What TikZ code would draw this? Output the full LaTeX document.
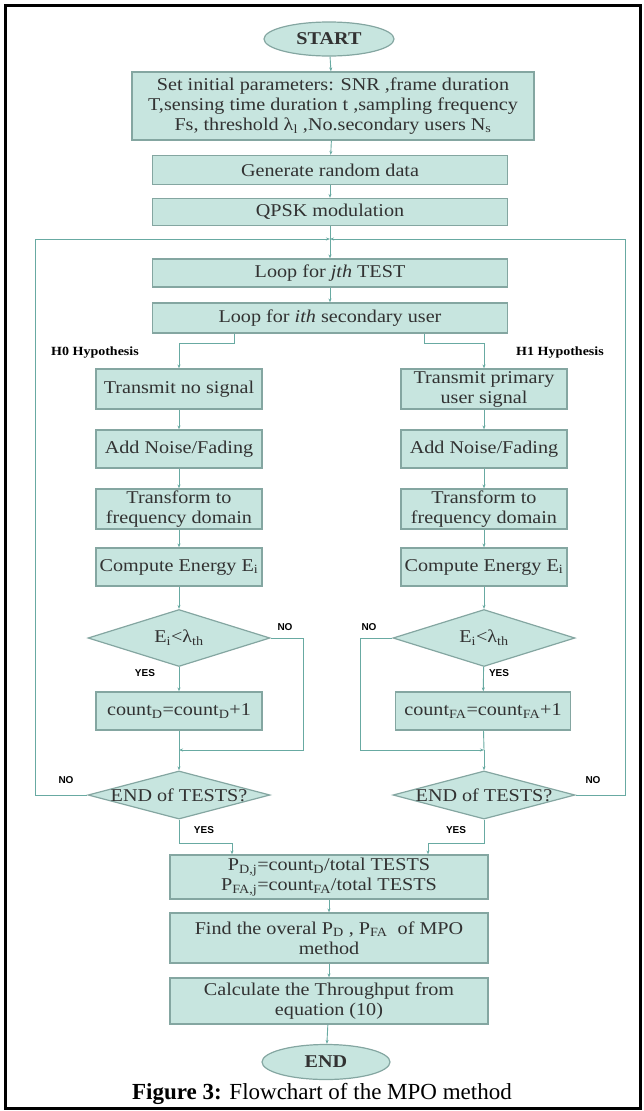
\documentclass[tikz,border=0pt]{standalone}
\usepackage{fontspec}
\setmainfont{Liberation Serif}
\setsansfont{Liberation Sans}
\newfontfamily\chartfont{Liberation Serif}[FakeStretch=1.12]
\usepackage{tikz}
\usetikzlibrary{shapes.geometric,arrows.meta}

\definecolor{boxfill}{RGB}{199,229,223}
\definecolor{boxline}{RGB}{132,166,161}
\definecolor{flowline}{RGB}{104,170,162}
\definecolor{inktext}{RGB}{50,50,50}

\tikzset{
    stepbox/.style={draw=boxline, line width=1.2pt, fill=boxfill, text=inktext, align=center,
        inner sep=0pt, font=\chartfont\fontsize{18}{20}\selectfont},
    colbox/.style={stepbox, minimum width=166pt, minimum height=38pt},
    termnode/.style={ellipse, draw=boxline, line width=1.2pt, fill=boxfill, text=inktext,
        inner sep=0pt, font=\chartfont\fontsize{18}{20}\selectfont\bfseries},
    testnode/.style={diamond, aspect=3.2, draw=boxline, line width=1.2pt, fill=boxfill,
        text=inktext, inner sep=0pt, minimum width=182pt, font=\chartfont\fontsize{18}{20}\selectfont},
    tag/.style={font=\fontsize{10}{11}\selectfont\sffamily\bfseries},
    hyptag/.style={font=\chartfont\fontsize{12.5}{13}\selectfont\bfseries},
    flowarrow/.style={->, draw=flowline, line width=0.9pt},
}

\begin{document}
\begin{tikzpicture}[x=1pt, y=-1pt, >={Stealth[length=4pt,width=3pt]}]
    \useasboundingbox (0,0) rectangle (644,1111);
    \draw[line width=3pt] (5,5.5) rectangle (640,1108.5);

    % main column
    \node[termnode, minimum width=130pt, minimum height=34pt] (start) at (329,39) {START};
    \node[stepbox, minimum width=402pt, minimum height=68pt] (init) at (333,106)
        {Set initial parameters: SNR ,frame duration\\
         T,sensing time duration t ,sampling frequency\\
         Fs, threshold λ\textsubscript{l} ,No.secondary users N\textsubscript{s}};
    \node[stepbox, minimum width=355pt, minimum height=29pt] (gen) at (330,170) {Generate random data};
    \node[stepbox, minimum width=355pt, minimum height=27pt] (qpsk) at (330,212) {QPSK modulation};
    \node[stepbox, minimum width=355pt, minimum height=28pt] (jtest) at (330,273) {Loop for \textit{jth} TEST};
    \node[stepbox, minimum width=355pt, minimum height=30pt] (iuser) at (330,318) {Loop for \textit{ith} secondary user};

    \draw[flowarrow] (start) -- (init);
    \draw[flowarrow] (init) -- (gen);
    \draw[flowarrow] (gen) -- (qpsk);
    \draw[flowarrow] (qpsk) -- (jtest);
    \draw[flowarrow] (jtest) -- (iuser);

    % two hypotheses
    \node[hyptag] (h0) at (95,353) {H0 Hypothesis};
    \node[hyptag] (h1) at (560,353) {H1 Hypothesis};
    \node[colbox, minimum height=40pt] (tx0) at (179,389) {Transmit no signal};
    \node[colbox, minimum height=40pt] (tx1) at (484,389) {Transmit primary\\user signal};
    \coordinate (split0) at (234,343);
    \coordinate (split1) at (424,343);
    \draw[flowarrow] (iuser.south -| split0) -- (split0) -| (tx0);
    \draw[flowarrow] (iuser.south -| split1) -- (split1) -| (tx1);

    \foreach \s/\x in {0/179, 1/484} {
        \node[colbox] (noise\s) at (\x,449) {Add Noise/Fading};
        \node[colbox, minimum height=40pt] (freq\s) at (\x,509) {Transform to\\frequency domain};
        \node[colbox] (energy\s) at (\x,567) {Compute Energy E\textsubscript{i}};
        \node[testnode, minimum height=57pt] (thr\s) at (\x,638) {E\textsubscript{i}<λ\textsubscript{th}};
        \coordinate (join\s) at (\x,750);
        \node[testnode, inner xsep=-12pt, minimum height=48pt] (done\s) at (\x,795) {END of TESTS?};

        \draw[flowarrow] (tx\s) -- (noise\s);
        \draw[flowarrow] (noise\s) -- (freq\s);
        \draw[flowarrow] (freq\s) -- (energy\s);
        \draw[flowarrow] (energy\s) -- (thr\s);
    }
    \node[colbox] (count0) at (179,711) {count\textsubscript{D}=count\textsubscript{D}+1};
    \node[colbox, minimum width=175pt] (count1) at (483,711) {count\textsubscript{FA}=count\textsubscript{FA}+1};

    \foreach \s in {0,1} {
        \draw[flowarrow] (thr\s) -- (count\s);
        \draw[flowline, line width=0.9pt] (count\s) -- (join\s);
        \draw[flowarrow] (join\s) -- (done\s);
    }

    % NO branches of the threshold tests
    \coordinate (skip0) at (303,750);
    \coordinate (skip1) at (360,750);
    \draw[flowarrow] (thr0.east) -| (skip0) -- (join0);
    \draw[flowarrow] (thr1.west) -| (skip1) -- (join1);
    \node[tag] (no0) at (285,627) {NO};
    \node[tag] (no1) at (369,627) {NO};
    \node[tag] (yes0) at (145,673) {YES};
    \node[tag] (yes1) at (499,673) {YES};

    % outer loop back to the next test
    \coordinate (loop) at (330,239);
    \coordinate (back0) at (35,239);
    \coordinate (back1) at (625,239);
    \draw[flowarrow] (done0.west) -| (back0) -- (loop);
    \draw[flowarrow] (done1.east) -| (back1) -- (loop);
    \node[tag] (no2) at (66,780) {NO};
    \node[tag] (no3) at (593,780) {NO};
    \node[tag] (yes2) at (204,830) {YES};
    \node[tag] (yes3) at (456,830) {YES};

    % results
    \node[stepbox, minimum width=318pt, minimum height=44pt] (prob) at (329,877)
        {P\textsubscript{D,j}=count\textsubscript{D}/total TESTS\\P\textsubscript{FA,j}=count\textsubscript{FA}/total TESTS};
    \node[stepbox, minimum width=318pt, minimum height=50pt] (overall) at (329,938)
        {Find the overal P\textsubscript{D} , P\textsubscript{FA}\ \ of MPO\\method};
    \node[stepbox, minimum width=318pt, minimum height=46pt] (thru) at (329,1001)
        {Calculate the Throughput from\\equation (10)};
    \node[termnode, minimum width=128pt, minimum height=35pt] (stop) at (326,1062) {END};

    \coordinate (merge0) at (232,843);
    \coordinate (merge1) at (428,843);
    \draw[flowarrow] (done0.south) |- (merge0) -- (merge0 |- prob.north);
    \draw[flowarrow] (done1.south) |- (merge1) -- (merge1 |- prob.north);
    \draw[flowarrow] (prob) -- (overall);
    \draw[flowarrow] (overall) -- (thru);
    \draw[flowarrow] (thru) -- (stop);

    \node[font=\fontsize{23}{25}\selectfont] (caption) at (322,1094)
        {\textbf{Figure 3:} Flowchart of the MPO method};
\end{tikzpicture}
\end{document}
